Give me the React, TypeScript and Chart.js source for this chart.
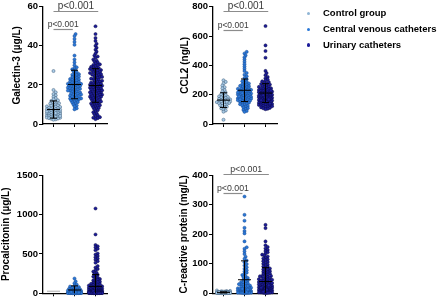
import React, { useEffect, useRef } from "react";
import { Chart, registerables } from "chart.js";
Chart.register(...registerables);

const groupNames = ["Control group", "Central venous catheters", "Urinary catheters"];
const groupFill = ["#a9cbe6", "#2a78d8", "#1c1c9a"];
const groupBorder = ["#3c5a78", "#1b4a90", "#0a0a40"];
const legendDot = ["#8fb5d5", "#2a78d8", "#1c1c9a"];

// Galectin-3 (µg/L)
const galectinControl = [27.1, 17.4, 16.2, 15.3, 14.6, 13.9, 13.2, 12.6, 12.1, 11.8, 11.2, 11.0, 10.6, 10.4, 10.0, 9.8, 9.5, 9.3, 9.0, 8.8, 8.7, 8.3, 8.1, 7.9, 7.6, 7.5, 7.2, 7.1, 6.9, 6.7, 6.6, 6.3, 6.2, 6.0, 5.8, 5.7, 5.4, 5.3, 5.1, 5.0, 4.8, 4.6, 4.5, 4.3, 4.2, 4.0, 3.8, 3.7, 3.5, 3.3, 3.2, 3.0, 2.8, 2.7, 2.4, 2.2, 6.4, 7.3, 5.6, 8.4, 4.1, 3.6];
const galectinCvc = [46, 45, 43.5, 42, 40.5, 35, 33, 31.5, 30, 29, 28.5, 28, 27.5, 27, 26.5, 26, 25.5, 25, 25.2, 24.5, 24, 24.3, 23.5, 23, 23.2, 22.5, 22.7, 22, 22.2, 21.5, 21.7, 21, 21.2, 20.8, 20.5, 20.6, 20, 20.1, 19.9, 20.3, 19.5, 19.6, 19.4, 19, 19.2, 18.8, 18.5, 18.6, 18, 18.2, 17.8, 17.5, 17.4, 17, 17.1, 16.5, 16.6, 16, 16.2, 15.5, 15.6, 15, 15.1, 14.5, 14.6, 14, 14.2, 13.5, 13.6, 13, 13.1, 12.5, 12.6, 12, 12.2, 11.5, 11, 11.2, 10.5, 10, 9.5, 9, 8, 7.5];
const galectinUrinary = [50, 46, 44, 42.5, 41, 40, 39, 38, 37, 36, 35, 34.5, 34, 33, 32.5, 32, 31.5, 31, 30.5, 30, 30.2, 29.5, 29, 29.2, 28.5, 28.6, 28, 28.1, 27.5, 27.6, 27, 27.2, 26.5, 26.6, 26, 26.1, 25.5, 25.6, 25, 25.2, 24.5, 24.6, 24, 24.1, 23.5, 23.6, 23, 23.2, 22.5, 22.6, 22, 22.1, 21.5, 21.6, 21, 21.2, 20.9, 20.5, 20.6, 20, 20.1, 19.9, 19.5, 19.6, 19, 19.2, 18.9, 18.5, 18.6, 18, 18.2, 17.9, 17.5, 17.6, 17, 17.2, 16.9, 16.5, 16.6, 16, 16.2, 15.9, 15.5, 15.6, 15, 15.2, 14.9, 14.5, 14.6, 14, 14.2, 13.9, 13.5, 13.6, 13, 13.2, 12.5, 12.6, 12, 12.2, 11.5, 11.6, 11, 11.2, 10.5, 10.6, 10, 10.2, 9.5, 9.6, 9, 9.2, 8.5, 8, 8.2, 7.5, 7, 6.5, 6, 5.5, 5, 4.5, 4, 3.5, 3, 3.2, 2.5];
const galectinMean = [7.4, 20.2, 19.7];
const galectinSd = [4.4, 7.3, 8.6];

// CCL2 (ng/L)
const ccl2Control = [298, 287, 276, 262, 251, 243, 231, 222, 214, 208, 203, 197, 193, 188, 184, 181, 177, 174, 171, 168, 166, 163, 160, 158, 156, 153, 151, 149, 146, 143, 141, 138, 135, 131, 127, 123, 118, 113, 106, 99, 92, 84, 152, 29];
const ccl2Cvc = [492, 481, 468, 455, 440, 424, 408, 392, 377, 361, 348, 336, 325, 314, 305, 298, 291, 286, 281, 276, 271, 267, 262, 258, 254, 250, 246, 243, 239, 236, 233, 230, 227, 224, 221, 219, 216, 213, 211, 208, 206, 203, 201, 199, 196, 194, 192, 190, 187, 185, 183, 181, 179, 176, 174, 172, 169, 167, 164, 162, 159, 157, 154, 151, 148, 145, 142, 138, 135, 131, 127, 123, 118, 113, 108, 102, 96, 89, 83, 205, 215, 188, 225, 178, 240, 197, 168, 260, 232, 210];
const ccl2Urinary = [668, 536, 498, 452, 362, 347, 333, 321, 312, 304, 297, 291, 286, 281, 277, 273, 269, 266, 262, 259, 256, 253, 250, 247, 244, 242, 239, 237, 234, 232, 229, 227, 225, 223, 221, 219, 217, 215, 213, 211, 209, 207, 205, 203, 201, 199, 198, 196, 194, 192, 191, 189, 187, 186, 184, 182, 181, 179, 178, 176, 175, 173, 172, 170, 169, 167, 166, 164, 163, 161, 160, 158, 157, 155, 154, 152, 150, 149, 147, 145, 144, 142, 140, 138, 136, 134, 132, 130, 128, 126, 124, 121, 119, 116, 113, 110, 107, 104, 101, 188, 174, 162, 205, 151, 139, 229, 196, 168, 183, 211];
const ccl2Mean = [163, 230, 211];
const ccl2Sd = [50, 77, 64];

// Procalcitonin (µg/L)
const pctControl: number[] = [];
const pctCvc = [188, 152, 128, 112, 97, 86, 79, 72, 66, 61, 56, 52, 48, 45, 42, 39, 36, 33, 31, 29, 27, 25, 23, 21, 19.5, 18, 16.5, 15, 14, 13, 12, 11, 10, 9, 8.2, 7.5, 6.8, 6, 5.3, 4.7, 4.1, 3.6, 3.1, 2.6, 2.2, 1.8, 1.4, 1.1, 0.8, 0.5, 35, 24, 17, 12.5, 8.8];
const pctUrinary = [1078, 748, 614, 598, 583, 566, 548, 506, 492, 474, 458, 441, 427, 408, 389, 346, 327, 309, 292, 276, 262, 249, 236, 224, 212, 201, 191, 182, 173, 164, 156, 148, 141, 134, 127, 121, 115, 109, 104, 99, 94, 89, 85, 81, 77, 73, 69, 66, 63, 60, 57, 54, 51, 48, 46, 44, 42, 40, 38, 36, 34, 32, 30, 29, 27, 26, 24, 23, 22, 21, 20, 19, 18, 17, 16, 15, 14, 13, 12, 11, 10, 9.5, 9, 8.5, 8, 7.5, 7, 6.5, 6, 5.5, 5, 4.5, 4, 3.5, 3, 2.6, 2.2, 1.8, 1.4, 1, 0.7, 0.4, 28, 19, 13, 8.8, 5.2, 3.3, 45, 62];
const pctMean = [25, 42, 88];
const pctSd = [0, 52, 150];

// C-reactive protein (mg/L)
const crpControl = [9.5, 8.2, 7.4, 6.8, 6.2, 5.7, 5.3, 4.9, 4.6, 4.3, 4.0, 3.8, 3.5, 3.3, 3.1, 2.9, 2.7, 2.5, 2.3, 2.1, 2.0, 1.8, 1.7, 1.5, 1.4, 1.2, 1.1, 1.0, 0.9, 0.8, 0.7, 0.6, 0.5, 0.4, 3.6, 2.8, 1.9, 4.4, 5.1, 0.3];
const crpCvc = [328, 266, 246, 222, 211, 203, 176, 156, 151, 142, 133, 124, 117, 111, 105, 99, 94, 88, 83, 78, 74, 70, 66, 62, 58, 55, 52, 49, 46, 43, 40, 38, 36, 34, 32, 30, 28, 26, 24, 22, 20, 19, 18, 17, 16, 15, 14, 13, 12, 11, 10, 9, 8, 7.5, 7, 6.5, 6, 5.5, 5, 4.5, 4, 3.6, 3.2, 2.8, 2.4, 2, 1.7, 1.4, 1.1, 0.8, 0.5, 25, 15, 8.5, 4.2, 2.2, 31, 12.5];
const crpUrinary = [232, 221, 176, 163, 157, 152, 147, 143, 139, 135, 131, 128, 125, 121, 118, 115, 112, 109, 106, 103, 100, 97, 94, 91, 89, 86, 84, 81, 79, 77, 75, 73, 71, 69, 67, 65, 63, 61, 59, 57, 55, 53, 52, 50, 48, 47, 45, 44, 42, 41, 39, 38, 37, 35, 34, 33, 32, 31, 30, 29, 28, 27, 26, 25, 24, 23, 22, 21, 20, 19, 18.5, 18, 17, 16.5, 16, 15, 14.5, 14, 13, 12.5, 12, 11, 10.5, 10, 9.5, 9, 8.5, 8, 7.5, 7, 6.5, 6, 5.5, 5, 4.5, 4, 3.5, 3, 2.5, 2, 1.5, 1, 0.5, 27, 22, 16, 12, 8, 5, 3, 35, 46, 58, 19];
const crpMean = [3, 46, 40];
const crpSd = [2, 64, 47];

const pLabel = "p<0.001";

type Bracket = { x1: number; x2: number; y: number; size: number };
type Panel = {
  left: number; top: number; title: string; max: number; step: number;
  groups: number[][]; mean: number[]; sd: number[];
  brackets: Bracket[]; padTop: number; bottomH: number; titlePad: number;
};

const panels: Panel[] = [
  {
    left: 0, top: 0, title: "Galectin-3 (µg/L)", max: 60, step: 20,
    groups: [galectinControl, galectinCvc, galectinUrinary], mean: galectinMean, sd: galectinSd,
    brackets: [{ x1: 1, x2: 3.13, y: 57.8, size: 10 }, { x1: 1, x2: 1.92, y: 48.8, size: 8.5 }],
    padTop: 5, bottomH: 26, titlePad: 11.5,
  },
  {
    left: 170, top: 0, title: "CCL2 (ng/L)", max: 800, step: 200,
    groups: [ccl2Control, ccl2Cvc, ccl2Urinary], mean: ccl2Mean, sd: ccl2Sd,
    brackets: [{ x1: 1, x2: 3.13, y: 771, size: 10 }, { x1: 1, x2: 1.92, y: 643, size: 8.5 }],
    padTop: 5, bottomH: 26, titlePad: 9,
  },
  {
    left: 0, top: 150, title: "Procalcitonin (µg/L)", max: 1500, step: 500,
    groups: [pctControl, pctCvc, pctUrinary], mean: pctMean, sd: pctSd,
    brackets: [],
    padTop: 25.3, bottomH: 5, titlePad: 0,
  },
  {
    left: 170, top: 150, title: "C-reactive protein (mg/L)", max: 400, step: 100,
    groups: [crpControl, crpCvc, crpUrinary], mean: crpMean, sd: crpSd,
    brackets: [{ x1: 1, x2: 3.16, y: 403, size: 8.8 }, { x1: 1, x2: 1.9, y: 341, size: 8.8 }],
    padTop: 25.3, bottomH: 5, titlePad: 8.7,
  },
];

const W = 170, H = 150, AXIS_W = 43, PAD_R = 63;
const CAT_PX = 21;
const FONT = "'Liberation Sans', Arial, Helvetica, sans-serif";

function swarm(values: number[], pxPerUnit: number, dot: number, maxOff: number): number[] {
  const order = values.map((_, i) => i).sort((a, b) => values[a] - values[b]);
  const placed: { x: number; y: number }[] = [];
  const out = new Array(values.length).fill(0);
  const step = dot * 0.5;
  const nSteps = Math.floor(maxOff / step);
  for (const i of order) {
    const y = values[i] * pxPerUnit;
    let best = 0, bestScore = -Infinity;
    for (let k = 0; k <= nSteps * 2; k++) {
      const off = (k % 2 === 1 ? 1 : -1) * Math.ceil(k / 2) * step;
      let minD = Infinity;
      for (const p of placed) {
        const dy = p.y - y;
        if (Math.abs(dy) < dot) {
          const d = Math.hypot(p.x - off, dy);
          if (d < minD) minD = d;
        }
      }
      if (minD >= dot) { best = off; bestScore = Infinity; break; }
      if (minD > bestScore + 0.3) { bestScore = minD; best = off; }
    }
    placed.push({ x: best, y });
    out[i] = best;
  }
  return out;
}

const overlayPlugin = {
  id: "overlay",
  afterDatasetsDraw(chart: any) {
    const o = chart.options.plugins.overlay;
    const xs = chart.scales.x, ys = chart.scales.y;
    const ctx = chart.ctx;
    ctx.save();
    o.mean.forEach((m: number, g: number) => {
      const cx = xs.getPixelForValue(g + 1);
      const empty = o.groups[g].length === 0;
      ctx.strokeStyle = empty ? "#c4c4c4" : "#000";
      ctx.lineWidth = empty ? 1.5 : 1;
      const yM = ys.getPixelForValue(m);
      ctx.beginPath();
      ctx.moveTo(cx - 6.5, yM); ctx.lineTo(cx + 6.5, yM);
      if (o.sd[g] > 0) {
        const yU = ys.getPixelForValue(m + o.sd[g]);
        const yL = ys.getPixelForValue(Math.max(0, m - o.sd[g]));
        ctx.moveTo(cx - 3.5, yU); ctx.lineTo(cx + 3.5, yU);
        if (m - o.sd[g] > 0) { ctx.moveTo(cx - 3.5, yL); ctx.lineTo(cx + 3.5, yL); }
        ctx.moveTo(cx, yU); ctx.lineTo(cx, yL);
      }
      ctx.stroke();
    });
    ctx.restore();
  },
  afterDraw(chart: any) {
    const o = chart.options.plugins.overlay;
    const xs = chart.scales.x, ys = chart.scales.y;
    const ctx = chart.ctx;
    ctx.save();
    o.brackets.forEach((b: Bracket) => {
      const x1 = xs.getPixelForValue(b.x1), x2 = xs.getPixelForValue(b.x2);
      const y = Math.round(ys.getPixelForValue(b.y)) + 0.5;
      ctx.strokeStyle = "#8c8c8c";
      ctx.lineWidth = 1.2;
      ctx.beginPath(); ctx.moveTo(x1, y); ctx.lineTo(x2, y); ctx.stroke();
      ctx.fillStyle = "#3a3a3a";
      ctx.font = `${b.size}px ${FONT}`;
      ctx.textAlign = "center";
      ctx.textBaseline = "bottom";
      ctx.fillText(pLabel, (x1 + x2) / 2, y - 0.5);
    });
    ctx.restore();
  },
};

function PanelChart({ p }: { p: Panel }) {
  const ref = useRef<HTMLCanvasElement>(null);
  useEffect(() => {
    if (!ref.current) return;
    const plotH = H - p.padTop - p.bottomH;
    const pxPerUnit = plotH / p.max;
    const datasets = p.groups.map((vals, g) => {
      const offs = swarm(vals, pxPerUnit, 2.2, 7.5);
      return {
        label: groupNames[g],
        data: vals.map((v, i) => ({ x: g + 1 + offs[i] / CAT_PX, y: v })),
        backgroundColor: groupFill[g],
        borderColor: groupBorder[g],
        borderWidth: 0.5,
        pointRadius: 1.55,
        pointHoverRadius: 1.55,
        clip: false as any,
      };
    });
    const chart = new Chart(ref.current, {
      type: "scatter",
      data: { datasets },
      plugins: [overlayPlugin],
      options: {
        animation: false,
        responsive: false,
        devicePixelRatio: 1,
        events: [],
        layout: { padding: { top: p.padTop, right: PAD_R, bottom: 0, left: 0 } },
        plugins: {
          legend: { display: false },
          tooltip: { enabled: false },
          overlay: { mean: p.mean, sd: p.sd, groups: p.groups, brackets: p.brackets },
        } as any,
        scales: {
          x: {
            type: "linear",
            min: 0.5,
            max: 0.5 + (W - AXIS_W - PAD_R) / CAT_PX,
            afterBuildTicks: (s: any) => { s.ticks = [{ value: 1 }, { value: 2 }, { value: 3 }]; },
            afterFit: (s: any) => { s.height = p.bottomH; },
            ticks: { display: false },
            grid: { drawOnChartArea: false, drawTicks: true, tickLength: 3, tickColor: "#000", tickWidth: 1 },
            border: { display: true, color: "#000", width: 1.3 },
          },
          y: {
            type: "linear",
            min: 0,
            max: p.max,
            afterBuildTicks: (s: any) => {
              const t = [];
              for (let v = 0; v <= p.max; v += p.step) t.push({ value: v });
              s.ticks = t;
            },
            afterFit: (s: any) => { s.width = AXIS_W; },
            ticks: {
              color: "#000", padding: 1,
              font: { family: FONT, size: 9.5, weight: "bold" },
              callback: (v: any) => String(v),
            },
            grid: { drawOnChartArea: false, drawTicks: true, tickLength: 4, tickColor: "#000", tickWidth: 1 },
            border: { display: true, color: "#000", width: 1.3 },
            title: {
              display: true, text: p.title, color: "#000",
              padding: { top: p.titlePad, bottom: 0 },
              font: { family: FONT, size: 10, weight: "bold" },
            },
          },
        },
      } as any,
    });
    return () => chart.destroy();
  }, [p]);
  return (
    <canvas
      ref={ref}
      width={W}
      height={H}
      style={{ position: "absolute", left: p.left, top: p.top, width: W, height: H }}
    />
  );
}

export default function App() {
  useEffect(() => {
    document.body.style.margin = "0";
  }, []);
  const legendY = [13.3, 29.3, 45];
  return (
    <div style={{ position: "relative", width: 440, height: 300, background: "#fff", overflow: "hidden" }}>
      {panels.map((p, i) => (
        <PanelChart key={i} p={p} />
      ))}
      {groupNames.map((name, i) => (
        <React.Fragment key={name}>
          <div
            style={{
              position: "absolute", left: 306.6, top: legendY[i] - 1.7, width: 3.4, height: 3.4,
              borderRadius: "50%", background: legendDot[i],
            }}
          />
          <div
            style={{
              position: "absolute", left: 323, top: legendY[i] - 7, height: 14, lineHeight: "14px",
              fontFamily: FONT, fontWeight: "bold", fontSize: 9.5, color: "#000", whiteSpace: "nowrap",
            }}
          >
            {name}
          </div>
        </React.Fragment>
      ))}
    </div>
  );
}
